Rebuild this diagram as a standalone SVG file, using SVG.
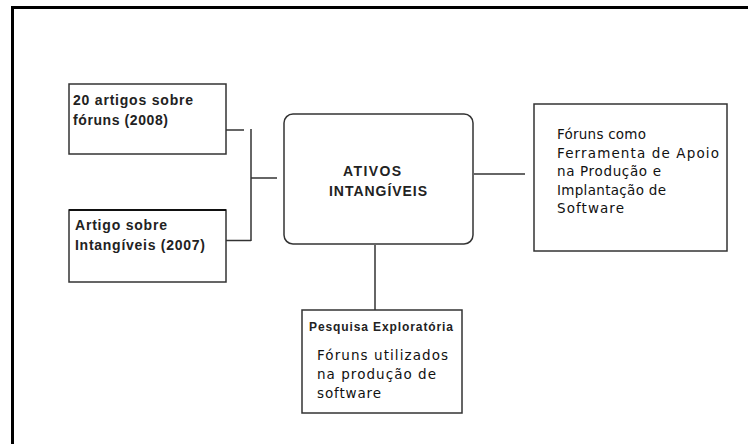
<svg xmlns="http://www.w3.org/2000/svg" width="748" height="444" viewBox="0 0 748 444">
<style>
.box{fill:#fff;stroke:#333;stroke-width:1.5}
.ln{fill:none;stroke:#333;stroke-width:1.5}
.tb{font-family:"Liberation Sans",Arial,sans-serif;font-weight:bold;font-size:14px;fill:#222}
.tr{font-family:"DejaVu Sans",Verdana,sans-serif;font-size:13.5px;fill:#111}
.tm{font-family:"Liberation Sans",Arial,sans-serif;font-weight:bold;font-size:14px;fill:#222}
.ts{font-family:"Liberation Sans",Arial,sans-serif;font-weight:bold;font-size:12px;fill:#222}
</style>
<rect width="748" height="444" fill="#fff"/>
<path d="M12.5,444 V7.5 H748" fill="none" stroke="#000" stroke-width="3"/>
<g id="connectors">
<path class="ln" d="M226,130 H244"/>
<path class="ln" d="M251,129 V241"/>
<path class="ln" d="M226,240.5 H251"/>
<path class="ln" d="M251,178 H277"/>
<path class="ln" d="M474,174 H525"/>
<path class="ln" d="M375,245 V310"/>
</g>
<g id="n1">
<rect class="box" x="69" y="84" width="157" height="70"/>
<text class="tb" x="73" y="105" textLength="120">20 artigos sobre</text>
<text class="tb" x="73" y="125" textLength="95">fóruns (2008)</text>
</g>
<g id="n2">
<rect class="box" x="69" y="210" width="157" height="72"/>
<path d="M69,210 H226" stroke="#111" stroke-width="2"/>
<text class="tb" x="75" y="230" textLength="92">Artigo sobre</text>
<text class="tb" x="75" y="250" textLength="130">Intangíveis (2007)</text>
</g>
<g id="main">
<rect class="box" x="284" y="114" width="189" height="130" rx="9" ry="9"/>
<text class="tm" x="343" y="176" textLength="58">ATIVOS</text>
<text class="tm" x="329" y="196" textLength="98">INTANGÍVEIS</text>
</g>
<g id="n3">
<rect class="box" x="534" y="104" width="193" height="147"/>
<text class="tr" x="557" y="139" textLength="89">Fóruns como</text>
<text class="tr" x="557" y="157.5" textLength="162">Ferramenta de Apoio</text>
<text class="tr" x="557" y="176" textLength="104">na Produção e</text>
<text class="tr" x="557" y="194.5" textLength="109">Implantação de</text>
<text class="tr" x="557" y="213" textLength="67">Software</text>
</g>
<g id="n4">
<rect class="box" x="302" y="310" width="160" height="103" stroke="#111" stroke-width="2"/>
<text class="ts" x="309" y="331" textLength="144">Pesquisa Exploratória</text>
<text class="tr" x="317" y="360" textLength="131">Fóruns utilizados</text>
<text class="tr" x="317" y="379" textLength="119">na produção de</text>
<text class="tr" x="317" y="398" textLength="64">software</text>
</g>
</svg>
